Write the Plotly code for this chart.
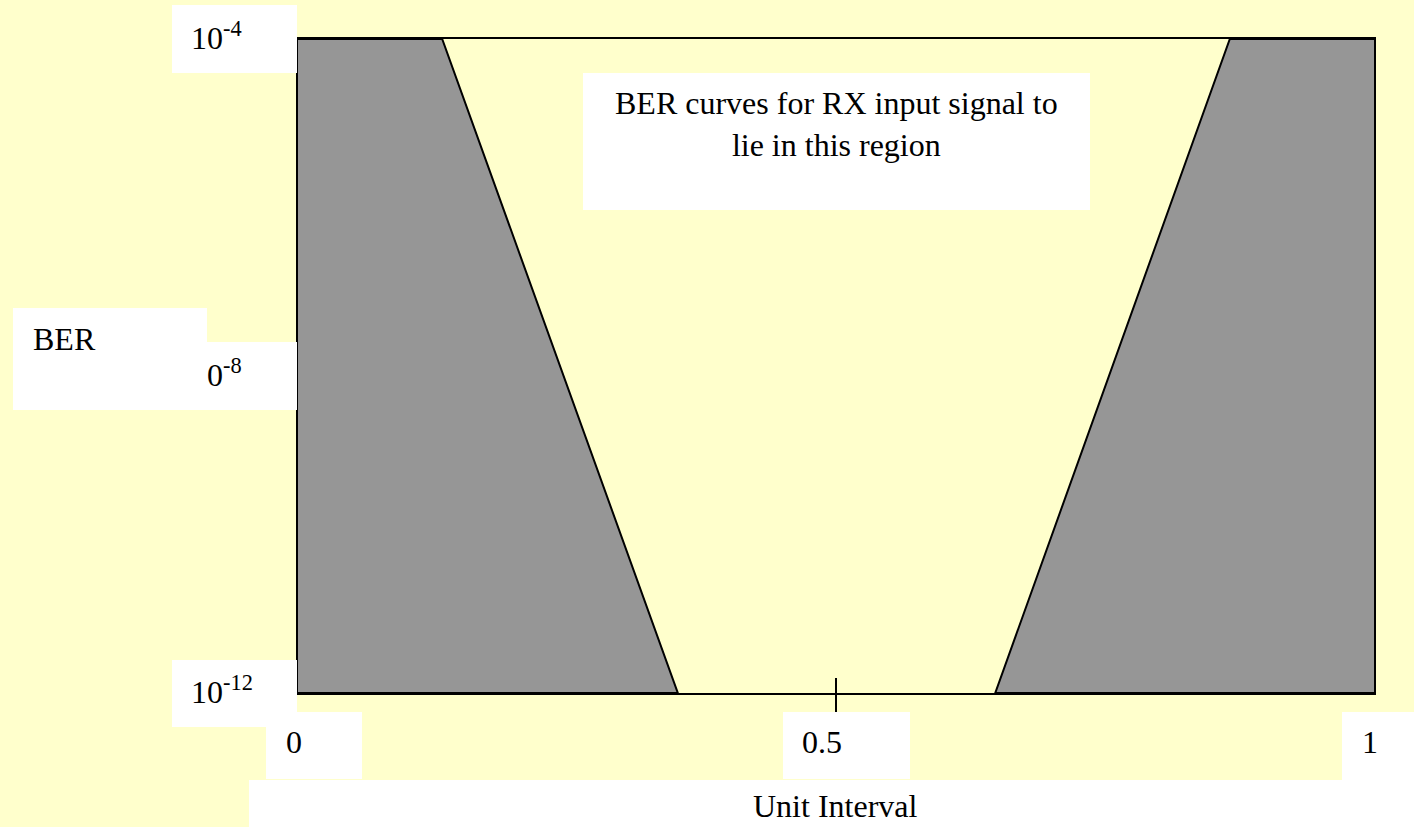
import plotly.graph_objects as go

# ---- data ----
mask_left_ui = [0.0, 0.134, 0.353, 0.0]
mask_left_ber = [1e-4, 1e-4, 1e-12, 1e-12]
mask_right_ui = [1.0, 0.866, 0.648, 1.0]
mask_right_ber = [1e-4, 1e-4, 1e-12, 1e-12]

x_tick_vals = [0, 0.5, 1]
x_tick_text = ["0", "0.5", "1"]
y_tick_exps = [-4, -8, -12]
y_tick_text = ["10<sup>-4</sup>", "10<sup>-8</sup>", "10<sup>-12</sup>"]
x_title = "Unit Interval"
y_title = "BER"
region_text = "BER curves for RX input signal to<br>lie in this region"

# ---- layout geometry (pixels) ----
W, H = 1414, 827
L, R, T, B = 298, 1374, 39, 693


def fx(px):
    return (px - L) / (R - L)


def fy(py):
    return (B - py) / (B - T)


FONT = dict(family="Liberation Serif", size=32, color="black")
BG = "#FFFFCC"
GRAY = "#969696"

fig = go.Figure()
for xs, ys in [(mask_left_ui, mask_left_ber), (mask_right_ui, mask_right_ber)]:
    fig.add_trace(go.Scatter(
        x=xs, y=ys, mode="lines", fill="toself", fillcolor=GRAY,
        line=dict(color="black", width=2), hoverinfo="skip", showlegend=False,
    ))

shapes = []


def box(x0, y0, x1, y1):
    shapes.append(dict(type="rect", xref="paper", yref="paper",
                       x0=fx(x0), x1=fx(x1), y0=fy(y1), y1=fy(y0),
                       fillcolor="white", line=dict(width=0), layer="above"))


# white label boxes
box(172, 5, 297, 73)       # 10^-4
box(172, 342, 297, 410)    # 10^-8
box(172, 660, 297, 727)    # 10^-12
box(266, 712, 362, 779)    # 0
box(783, 712, 910, 779)    # 0.5
box(1342, 712, 1414, 827)  # 1
box(249, 780, 1414, 827)   # Unit Interval
box(583, 73, 1090, 210)    # region text

# inner part of 0.5 tick
shapes.append(dict(type="line", xref="x", yref="paper",
                   x0=x_tick_vals[1], x1=x_tick_vals[1], y0=0, y1=fy(678),
                   line=dict(color="black", width=2), layer="above"))

annotations = []
# y tick labels
y_shifts = [3.5, -7, 3]
for e, t, s in zip(y_tick_exps, y_tick_text, y_shifts):
    annotations.append(dict(text=t, xref="paper", yref="y", x=fx(191), y=e,
                            xanchor="left", yanchor="middle", yshift=s,
                            showarrow=False, font=FONT, borderpad=0, borderwidth=0))
# BER title box (covers part of 10^-8 label) and text
annotations.append(dict(text=" ", xref="paper", yref="paper", x=fx(13), y=fy(308),
                        xanchor="left", yanchor="top", width=194, height=102,
                        bgcolor="white", borderpad=0, borderwidth=0, showarrow=False,
                        font=FONT))
annotations.append(dict(text=y_title, xref="paper", yref="paper", x=fx(33), y=fy(338.5),
                        xanchor="left", yanchor="middle", showarrow=False, font=FONT,
                        borderpad=0, borderwidth=0))
# x tick labels
x_shifts = [-4, -14, -4]
for v, t, s in zip(x_tick_vals, x_tick_text, x_shifts):
    annotations.append(dict(text=t, xref="x", yref="paper", x=v, y=fy(742),
                            xanchor="center", yanchor="middle", xshift=s,
                            showarrow=False, font=FONT, borderpad=0, borderwidth=0))
annotations.append(dict(text=x_title, xref="paper", yref="paper", x=fx(835), y=fy(806),
                        xanchor="center", yanchor="middle", showarrow=False, font=FONT,
                        borderpad=0, borderwidth=0))
annotations.append(dict(text=region_text, xref="paper", yref="paper", x=fx(836), y=fy(124),
                        xanchor="center", yanchor="middle", showarrow=False, font=FONT,
                        align="center", borderpad=0, borderwidth=0))

fig.update_layout(
    width=W, height=H, autosize=False,
    margin=dict(l=L, r=W - R, t=T, b=H - B, pad=0),
    paper_bgcolor=BG, plot_bgcolor=BG,
    showlegend=False,
    shapes=shapes, annotations=annotations,
    xaxis=dict(range=[0, 1], showgrid=False, zeroline=False, showline=True, mirror=True,
               linecolor="black", linewidth=2, tickvals=[x_tick_vals[1]], ticks="outside",
               ticklen=19, tickwidth=2, tickcolor="black", showticklabels=False),
    yaxis=dict(type="log", range=[-12, -4], showgrid=False, zeroline=False, showline=True,
               mirror=True, linecolor="black", linewidth=2, ticks="", showticklabels=False),
)

fig.write_html(
    "out.html",
    config={"displayModeBar": False},
    post_script="document.body.style.margin='0';document.body.style.padding='0';"
                "document.body.style.background='#FFFFCC';",
)
